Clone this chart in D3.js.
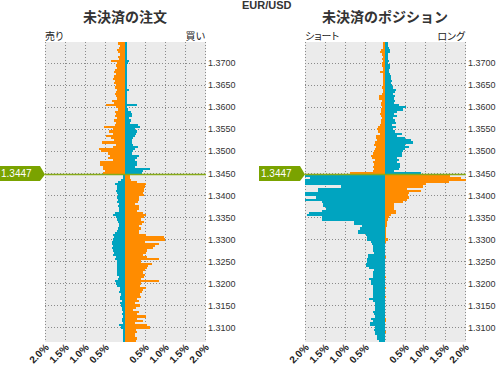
<!DOCTYPE html>
<html>
<head>
<meta charset="utf-8">
<script src="https://cdn.jsdelivr.net/npm/d3@7"></script>
<style>
body { margin: 0; background: #fff; }
text { font-family: "Liberation Sans", Arial, sans-serif; }
.jp { font-family: "Noto Sans CJK JP", sans-serif; }
.palt { font-feature-settings: "palt"; }
</style>
</head>
<body>
<svg width="497" height="365"></svg>
<script>
var pair = "EUR/USD";
var price = 1.3447;
var step = 0.0005;   // width of one price bucket

var pctTicks = [-2, -1.5, -1, -0.5, 0, 0.5, 1, 1.5, 2];
var pctLabels = [-2, -1.5, -1, -0.5, 0.5, 1, 1.5, 2];
var priceTicks = [1.3100, 1.3150, 1.3200, 1.3250, 1.3300, 1.3350, 1.3400,
                  1.3450, 1.3500, 1.3550, 1.3600, 1.3650, 1.3700];

// open orders (%), buckets above the price listed from the top down
var ordersSellAbove = [0.18,0.18,0.12,0.15,0.2,0.17,0.12,0.18,0.15,0.35,
    0.2,0.22,0.2,0.25,0.28,0.22,0.27,0.3,0.25,0.27,
    0.22,0.25,0.2,0.22,0.25,0.22,0.2,0.32,0.28,0.47,
    0.22,0.18,0.25,0.22,0.25,0.2,0.27,0.22,0.25,0.52,
    0.3,0.4,0.3,0.47,0.35,0.28,0.58,0.22,0.3,0.65,
    0.6,0.42,0.38,0.42,0.3,0.62,0.62,0.55,0.55,0.5,0.55];
var ordersBuyAbove = [0.04,0.04,0.05,0.04,0.04,0.05,0.04,0.05,0.04,0.1,
    0.07,0.05,0.04,0.05,0.04,0.05,0.04,0.06,0.05,0.04,
    0.05,0.04,0.1,0.05,0.04,0.06,0.05,0.05,0.05,0.3,
    0.06,0.08,0.16,0.18,0.17,0.1,0.15,0.12,0.33,0.37,
    0.25,0.3,0.27,0.25,0.2,0.18,0.17,0.2,0.32,0.25,
    0.2,0.17,0.35,0.3,0.25,0.3,0.3,0.25,0.62,0.45,0.43];
// buckets below the price, listed from the price downwards
var ordersSellBelow = [0.05,0.06,0.1,0.18,0.25,0.2,0.2,0.22,0.2,0.18,
    0.2,0.18,0.2,0.15,0.18,0.14,0.16,0.25,0.3,0.22,
    0.2,0.18,0.15,0.15,0.17,0.2,0.25,0.3,0.28,0.3,
    0.32,0.33,0.3,0.33,0.3,0.28,0.3,0.22,0.25,0.2,
    0.2,0.2,0.2,0.2,0.2,0.2,0.15,0.17,0.25,0.23,
    0.2,0.12,0.12,0.15,0.1,0.12,0.12,0.08,0.12,0.1,
    0.08,0.07,0.05,0.08,0.06,0.08,0.07,0.06,0.15,0.1,
    0.06,0.06,0.05,0.06,0.05,0.05,0.05];
var ordersBuyBelow = [0.13,0.12,0.15,0.3,0.52,0.5,0.47,0.47,0.45,0.48,
    0.35,0.35,0.32,0.25,0.35,0.35,0.3,0.45,0.52,0.48,
    0.4,0.48,0.42,0.35,0.4,0.35,0.35,0.52,0.97,1.0,
    0.5,0.85,0.75,0.7,0.55,0.52,0.45,0.55,0.85,0.4,
    0.68,0.58,0.55,0.5,0.45,0.5,0.48,0.4,0.85,0.4,
    0.38,0.52,0.45,0.42,0.38,0.4,0.3,0.35,0.25,0.38,
    0.27,0.2,0.35,0.3,0.52,0.3,0.45,0.25,0.55,0.63,
    0.28,0.3,0.25,0.25,0.3,0.27,0.27];

// open positions (%)
var posShortAbove = [0.04,0.04,0.04,0.04,0.1,0.12,0.08,0.06,0.07,0.05,
    0.07,0.08,0.06,0.05,0.13,0.05,0.06,0.05,0.05,0.06,
    0.05,0.07,0.06,0.05,0.07,0.15,0.15,0.08,0.1,0.1,
    0.08,0.11,0.1,0.12,0.1,0.08,0.1,0.1,0.12,0.18,
    0.2,0.18,0.12,0.22,0.23,0.2,0.25,0.27,0.22,0.25,
    0.27,0.3,0.35,0.33,0.25,0.3,0.28,0.3,0.28,0.3,0.88];
var posLongAbove = [0.08,0.08,0.08,0.1,0.12,0.12,0.08,0.07,0.08,0.1,
    0.08,0.12,0.12,0.1,0.1,0.12,0.15,0.15,0.18,0.15,
    0.17,0.2,0.27,0.25,0.2,0.25,0.22,0.25,0.22,0.35,
    0.52,0.45,0.3,0.22,0.3,0.2,0.25,0.27,0.18,0.27,
    0.2,0.25,0.43,0.3,0.5,0.64,0.7,0.5,0.6,0.5,
    0.45,0.42,0.42,0.3,0.35,0.3,0.37,0.37,0.35,0.22,0.9];
var posShortBelow = [2.2,1.88,2.2,2.2,2.2,1.09,1.68,1.68,2.2,2.2,
    1.72,2.2,1.57,1.55,1.55,1.47,1.58,1.9,1.95,1.58,
    1.58,0.78,0.78,0.58,0.63,0.67,0.67,0.48,0.44,0.44,
    0.35,0.33,0.3,0.3,0.3,0.27,0.42,0.42,0.44,0.46,
    0.48,0.47,0.4,0.28,0.3,0.3,0.3,0.4,0.35,0.35,
    0.3,0.3,0.3,0.3,0.3,0.3,0.4,0.3,0.25,0.25,
    0.25,0.25,0.3,0.27,0.25,0.36,0.3,0.37,0.37,0.25,
    0.27,0.25,0.25,0.2,0.2,0.15,0.15];
var posLongBelow = [1.63,1.9,2.2,1.6,1.02,0.95,0.55,0.9,0.6,0.58,
    0.6,0.55,0.45,0.22,0.22,0.22,0.27,0.27,0.15,0.1,
    0.08,0.05,0.05,0.04,0.03,0.02,0.03,0.02,0.03,0.07,
    0.02,0,0,0,0,0,0,0.03,0,0,
    0,0,0,0,0,0,0.03,0,0,0,
    0,0.03,0,0,0,0.03,0,0,0,0,
    0,0,0,0,0,0.02,0.03,0,0,0,
    0,0.03,0,0,0,0,0];

var orange = "#ff8c00", blue = "#00a4c0", green = "#7aa300";
var svg = d3.select("svg");

var plotTop = 42, plotH = 300, plotW = 160;
var y = d3.scaleLinear().domain([1.30666, 1.37477]).range([plotTop + plotH, plotTop]);

svg.append("text")
    .attr("x", 242).attr("y", 9)
    .style("font-size", "11px").style("font-weight", "bold")
    .attr("fill", "#333")
    .text(pair);

function drawPanel(p, idx) {
    var x = d3.scaleLinear().domain([-2, 2]).range([p.x0, p.x0 + plotW]);
    var g = svg.append("g");

    g.append("text").attr("class", "jp")
        .attr("x", p.x0 + 80).attr("y", 22)
        .attr("text-anchor", "middle")
        .style("font-size", "14px").style("font-weight", "bold")
        .attr("fill", "#333")
        .text(p.title);
    g.append("text").attr("class", "jp palt")
        .attr("x", p.x0).attr("y", 40)
        .style("font-size", "10px").attr("fill", "#222")
        .text(p.leftLabel);
    g.append("text").attr("class", "jp palt")
        .attr("x", p.x0 + plotW).attr("y", 40)
        .attr("text-anchor", "end")
        .style("font-size", "10px").attr("fill", "#222")
        .text(p.rightLabel);

    g.append("rect")
        .attr("x", p.x0).attr("y", plotTop)
        .attr("width", plotW + 1).attr("height", plotH)
        .attr("fill", "#ebebeb");

    // dotted grid
    g.selectAll(".vgrid").data(pctTicks).enter().append("line")
        .attr("x1", function (d) { return Math.round(x(d)) + 0.5; })
        .attr("x2", function (d) { return Math.round(x(d)) + 0.5; })
        .attr("y1", plotTop).attr("y2", plotTop + plotH)
        .attr("stroke", "#8a8a8a").attr("stroke-dasharray", "1,2");
    g.selectAll(".hgrid").data(priceTicks).enter().append("line")
        .attr("x1", p.x0).attr("x2", p.x0 + plotW + 1)
        .attr("y1", function (d) { return Math.round(y(d)) + 0.5; })
        .attr("y2", function (d) { return Math.round(y(d)) + 0.5; })
        .attr("stroke", "#8a8a8a").attr("stroke-dasharray", "1,2");

    g.append("clipPath").attr("id", "clip" + idx)
        .append("rect")
        .attr("x", p.x0).attr("y", plotTop)
        .attr("width", plotW + 1).attr("height", plotH);

    var bars = [];
    var nA = p.leftAbove.length;
    p.leftAbove.forEach(function (v, k) {
        bars.push({ lo: price + step * (nA - 1 - k), v: v, side: -1, c: orange });
    });
    p.rightAbove.forEach(function (v, k) {
        bars.push({ lo: price + step * (nA - 1 - k), v: v, side: 1, c: blue });
    });
    p.leftBelow.forEach(function (v, m) {
        bars.push({ lo: price - step * (m + 1), v: v, side: -1, c: blue });
    });
    p.rightBelow.forEach(function (v, m) {
        bars.push({ lo: price - step * (m + 1), v: v, side: 1, c: orange });
    });

    g.append("g").attr("clip-path", "url(#clip" + idx + ")")
        .selectAll("rect").data(bars.filter(function (b) { return b.v > 0; }))
        .enter().append("rect")
        .attr("shape-rendering", "crispEdges")
        .attr("x", function (b) { return b.side < 0 ? x(-b.v) : x(0); })
        .attr("width", function (b) { return x(b.v) - x(0); })
        .attr("y", function (b) { return Math.round(y(b.lo + step)); })
        .attr("height", function (b) { return Math.round(y(b.lo)) - Math.round(y(b.lo + step)); })
        .attr("fill", function (b) { return b.c; });

    // current price line and tag
    var py = y(price);
    g.append("line")
        .attr("x1", p.x0).attr("x2", p.x0 + plotW + 1)
        .attr("y1", py).attr("y2", py)
        .attr("stroke", "#86aa18").attr("stroke-width", 1.5);
    var tx = p.x0 - 46;
    g.append("path")
        .attr("d", "M" + tx + "," + (py - 8.5) + "H" + (tx + 41) + "L" + (tx + 46) + "," + py +
              "L" + (tx + 41) + "," + (py + 6.5) + "H" + tx + "Z")
        .attr("fill", green);
    g.append("text")
        .attr("x", tx + 2).attr("y", py + 3)
        .style("font-size", "10px").attr("fill", "#fff")
        .text(price.toFixed(4));

    // price axis on the right
    var ya = g.append("g")
        .attr("transform", "translate(" + (p.x0 + plotW + 1) + ",0)")
        .call(d3.axisRight(y).tickValues(priceTicks).tickFormat(d3.format(".4f")).tickSize(0).tickPadding(2));
    ya.select(".domain").remove();
    ya.selectAll("text").attr("fill", "#333")
        .style("font-size", "9px").style("font-family", "'Liberation Sans', Arial, sans-serif");

    // percent axis
    var xa = g.append("g")
        .attr("transform", "translate(0," + (plotTop + plotH) + ")")
        .call(d3.axisBottom(x).tickValues(pctLabels).tickSize(0)
              .tickFormat(function (d) { return Math.abs(d).toFixed(1) + "%"; }));
    xa.select(".domain").remove();
    xa.selectAll("text")
        .attr("y", 0).attr("dy", 0)
        .attr("text-anchor", "end")
        .attr("transform", "translate(4,6) rotate(-45)")
        .attr("fill", "#222")
        .style("font-size", "10px").style("font-weight", "bold")
        .style("font-family", "'Liberation Sans', Arial, sans-serif");
}

var panels = [
    { x0: 45, title: "未決済の注文", leftLabel: "売り", rightLabel: "買い",
      leftAbove: ordersSellAbove, rightAbove: ordersBuyAbove,
      leftBelow: ordersSellBelow, rightBelow: ordersBuyBelow },
    { x0: 305, title: "未決済のポジション", leftLabel: "ショート", rightLabel: "ロング",
      leftAbove: posShortAbove, rightAbove: posLongAbove,
      leftBelow: posShortBelow, rightBelow: posLongBelow }
];
panels.forEach(drawPanel);
</script>
</body>
</html>
